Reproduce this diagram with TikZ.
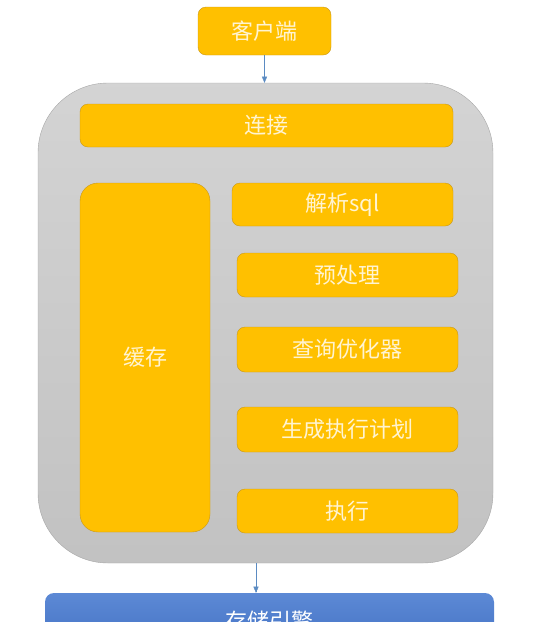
\documentclass[tikz,border=0pt]{standalone}
\usepackage{fontspec}
\newfontfamily\cjk{Noto Sans CJK SC}
\usepackage{tikz}
\usetikzlibrary{shapes,arrows,positioning}

\definecolor{boxfill}{HTML}{FFC000}
\definecolor{boxline}{HTML}{C9981A}
\definecolor{boxtext}{HTML}{FFF4D2}
\definecolor{grayline}{HTML}{A6A6A6}
\definecolor{arrowline}{HTML}{5B8BC2}
\definecolor{storetop}{HTML}{5C89D5}
\definecolor{storebottom}{HTML}{4472C4}

\begin{document}
\begin{tikzpicture}[x=1pt, y=-1pt]
			\tikzstyle{Step}	= [rectangle, rounded corners=8pt, draw=boxline, fill=boxfill, text=boxtext, inner sep=0pt, font=\cjk\fontsize{22}{26}\selectfont]
			\tikzstyle{Wide}	= [minimum width=221pt]
			\tikzstyle{Server}	= [rectangle, rounded corners=70pt, draw=grayline, top color=black!17, bottom color=black!24, minimum width=455pt, minimum height=480pt]
			\tikzstyle{Storage}	= [rectangle, rounded corners=9pt, top color=storetop, bottom color=storebottom, text=white, inner sep=0pt, font=\cjk\fontsize{22}{26}\selectfont, minimum width=449pt, minimum height=56pt]
			\tikzstyle{Flow}	= [draw=arrowline, -triangle 45]

			\useasboundingbox (0,0) rectangle (544,622);
			\clip (0,0) rectangle (544,622);

			\node (server) at (265.5, 323) [Server] {};
			\node (client) at (264.5, 31) [Step, minimum width=133pt, minimum height=48pt] {客户端};
			\node (conn) at (266.5, 125.5) [Step, minimum width=373pt, minimum height=43pt] {连接};
			\node (cache) at (145, 357.5) [Step, rounded corners=18pt, minimum width=130pt, minimum height=349pt] {缓存};
			\node (parse) at (342.5, 204.5) [Step][Wide, minimum height=43pt] {解析sql};
			\node (prep) at (347.5, 275) [Step][Wide, minimum height=44pt] {预处理};
			\node (opt) at (347.5, 349.5) [Step][Wide, minimum height=45pt] {查询优化器};
			\node (plan) at (347.5, 429.5) [Step][Wide, minimum height=45pt] {生成执行计划};
			\node (exec) at (347.5, 511) [Step][Wide, minimum height=44pt] {执行};
			\node (store) at (269.5, 621) [Storage] {存储引擎};

			\coordinate (out) at (256, 563);

			\draw (client) to (client |- server.north) [Flow];
			\draw (out) to (out |- store.north) [Flow];
		\end{tikzpicture}
\end{document}
